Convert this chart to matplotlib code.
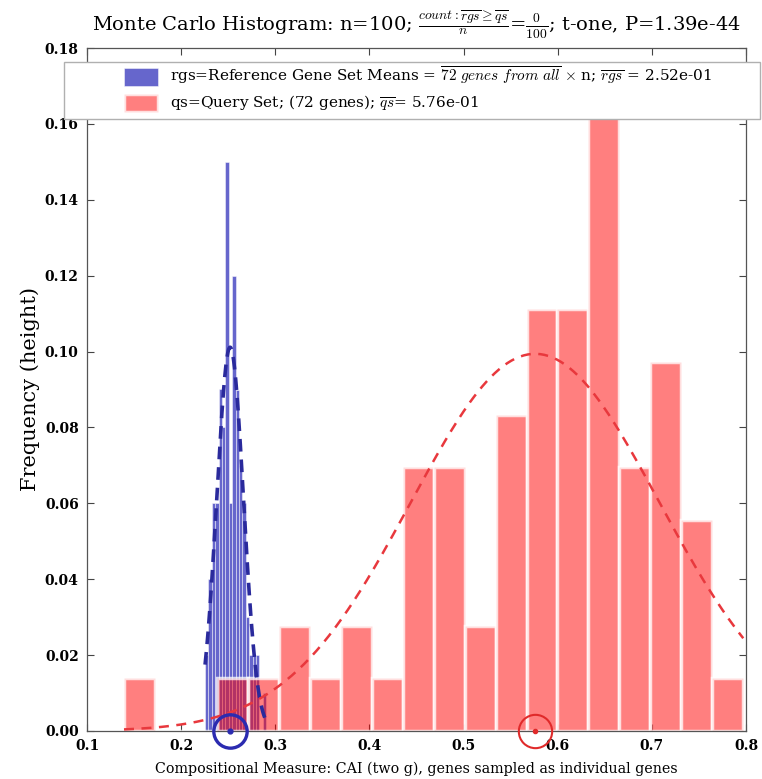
import numpy as np
import matplotlib
matplotlib.use("Agg")
import matplotlib.pyplot as plt
from matplotlib.patches import Rectangle

plt.rcParams['font.family'] = ['DejaVu Serif']
plt.rcParams['mathtext.fontset'] = 'cm'

# Monte Carlo reference distribution: means of 100 random 72-gene sets
n_mc = 100
rgs_range = (0.2254, 0.2902)
rgs_counts = [2, 4, 6, 6, 9, 8, 15, 6, 12, 9, 7, 6, 3, 2, 2, 2, 0, 1]
rgs_mean = 0.252
rgs_sd = 0.0142

# Query set: CAI of the 72 query genes
n_qs = 72
qs_range = (0.1393, 0.7971)
qs_counts = [1, 0, 0, 1, 1, 2, 1, 2, 1, 5, 5, 2, 6, 8, 8, 12, 5, 7, 4, 1]
qs_mean = 0.576
qs_sd = 0.132

count_ge = 0
p_value = 1.39e-44

x_ticks = [0.1, 0.2, 0.3, 0.4, 0.5, 0.6, 0.7, 0.8]
y_ticks = [0.00, 0.02, 0.04, 0.06, 0.08, 0.10, 0.12, 0.14, 0.16, 0.18]


def norm_pdf(x, mu, sd):
    return np.exp(-0.5 * ((x - mu) / sd) ** 2) / (sd * np.sqrt(2 * np.pi))


rgs_edges = np.linspace(rgs_range[0], rgs_range[1], len(rgs_counts) + 1)
rgs_centers = 0.5 * (rgs_edges[:-1] + rgs_edges[1:])
qs_edges = np.linspace(qs_range[0], qs_range[1], len(qs_counts) + 1)
qs_centers = 0.5 * (qs_edges[:-1] + qs_edges[1:])

fig = plt.figure(figsize=(7.62, 7.79), dpi=100)
W, H = 762.0, 779.0
ax = fig.add_axes([87 / W, 1 - 731 / H, (746 - 87) / W, (731 - 48) / H])

blue_face = (0.0, 0.0, 0.667, 0.6)
red_face = (1.0, 0.0, 0.0, 0.5)

ax.hist(rgs_centers, bins=rgs_edges, weights=np.array(rgs_counts) / n_mc,
        color=blue_face, edgecolor=(1, 1, 1, 0.55), linewidth=0.6, zorder=2,
        label=(r'rgs=Reference Gene Set Means = $\overline{72\ genes\ from\ all}$'
               r' $\times$ n; $\overline{rgs}$ = ' + f'{rgs_mean:.2e}'))
ax.hist(qs_centers, bins=qs_edges, weights=np.array(qs_counts) / n_qs,
        color=red_face, edgecolor=(1, 1, 1, 0.75), linewidth=2.5, zorder=2.1,
        label=r'qs=Query Set; (72 genes); $\overline{qs}$= ' + f'{qs_mean:.2e}')

# normal fits over the span of each histogram
bw_r = rgs_edges[1] - rgs_edges[0]
bw_q = qs_edges[1] - qs_edges[0]
xr = np.linspace(rgs_range[0], rgs_range[1], 200)
xq = np.linspace(qs_range[0], qs_range[1], 300)
ax.plot(xr, bw_r * norm_pdf(xr, rgs_mean, rgs_sd), '--',
        color='#2a2a9c', lw=2.6, dashes=(3.5, 2.2), zorder=3)
ax.plot(xq, bw_q * norm_pdf(xq, qs_mean, qs_sd), '--',
        color='#e8383d', lw=1.8, dashes=(4, 3), zorder=3)

# mean markers on the axis
ax.plot([rgs_mean], [0], 'o', ms=24, mfc='none', mec='#2b2bb0', mew=2.4,
        clip_on=False, zorder=6)
ax.plot([rgs_mean], [0], 'o', ms=3.5, color='#2b2bb0', clip_on=False, zorder=6)
ax.plot([qs_mean], [0], 'o', ms=24, mfc='none', mec='#e02a2a', mew=1.5,
        clip_on=False, zorder=6)
ax.plot([qs_mean], [0], 'o', ms=3, color='#e02a2a', clip_on=False, zorder=6)

ax.set_xlim(0.1, 0.8)
ax.set_ylim(0, 0.18)
ax.set_xticks(x_ticks)
ax.set_xticklabels([f'{v:.1f}' for v in x_ticks])
ax.set_yticks(y_ticks)
ax.set_yticklabels([f'{v:.2f}' for v in y_ticks])
ax.tick_params(direction='in', top=True, right=True, length=5, width=0.8,
               color='#444444', labelsize=10, pad=6)
for lab in ax.get_xticklabels() + ax.get_yticklabels():
    lab.set_fontweight('bold')
for sp in ax.spines.values():
    sp.set_color('#555555')
    sp.set_linewidth(0.9)

ax.set_title(r'Monte Carlo Histogram: n=100; $\frac{count:\overline{rgs}\geq\overline{qs}}{n}$'
             r'=$\frac{' + str(count_ge) + r'}{' + str(n_mc) + r'}$; t-one, P=' + f'{p_value:.2e}',
             fontsize=14, pad=12)
ax.set_xlabel('Compositional Measure: CAI (two g), genes sampled as individual genes',
              fontsize=10.3, labelpad=6)
ax.set_ylabel('Frequency (height)', fontsize=15, labelpad=3)

# legend box spanning past the axes edges
ax.add_patch(Rectangle((-0.0349, 0.896), 1.0561, 0.0835, transform=ax.transAxes,
                       facecolor='white', edgecolor='#b0b0b0', lw=1.0,
                       clip_on=False, zorder=10))
leg = ax.legend(loc='upper left', bbox_to_anchor=((124 - 87) / 659, (731 - 65) / 683),
                frameon=False, fontsize=11, borderpad=0, borderaxespad=0,
                handlelength=2.2, handleheight=1.4, handletextpad=0.8,
                labelspacing=0.45)
leg.set_zorder(11)

fig.savefig('out.png', dpi=100)
